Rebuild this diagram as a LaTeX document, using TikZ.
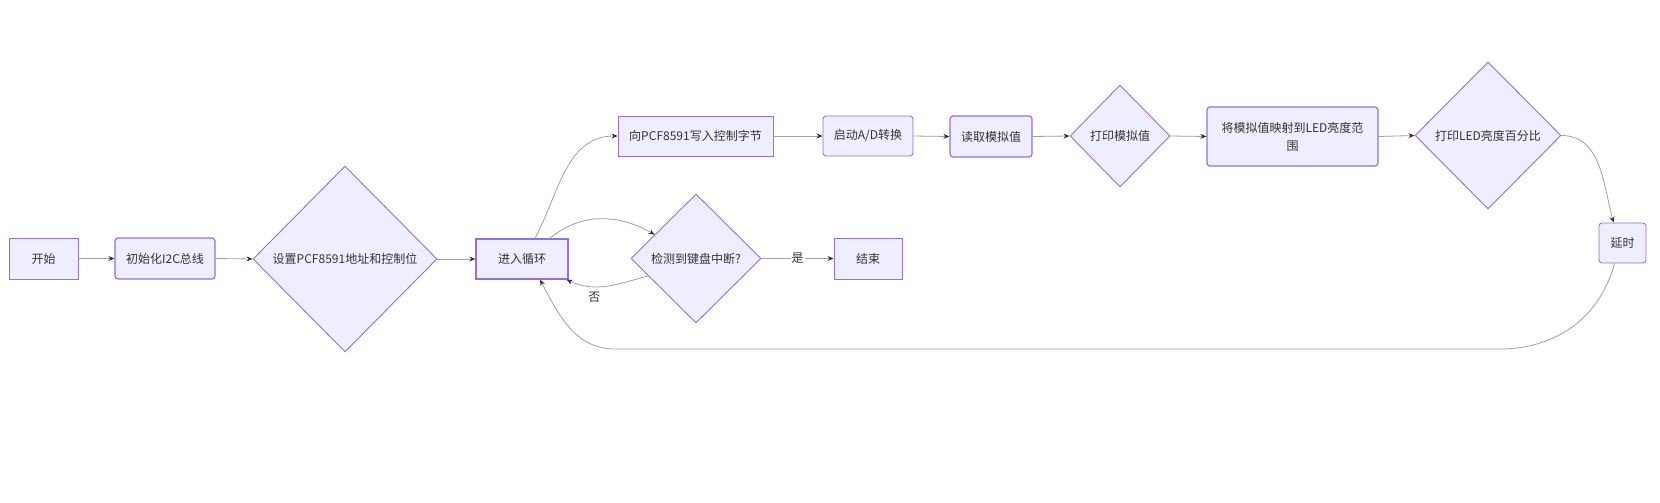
\documentclass[tikz,border=0pt]{standalone}
\usepackage{fontspec}
\setmainfont{Noto Sans CJK SC}
\usetikzlibrary{shapes.geometric,arrows.meta}
\definecolor{lav}{RGB}{238,238,255}
\definecolor{purp}{RGB}{147,112,219}
\definecolor{txt}{RGB}{51,51,51}
\definecolor{edge}{RGB}{160,160,160}
\tikzset{
  every node/.style={font=\fontsize{12}{18}\selectfont, text=txt},
  boxsq/.style={draw=purp, fill=lav, line width=0.9pt, inner sep=0pt},
  boxrd/.style={boxsq, rounded corners=3pt},
  dia/.style={draw=purp, fill=lav, line width=0.9pt, diamond, inner sep=0pt, aspect=1},
  conn/.style={draw=edge, line width=0.8pt, -{Stealth[length=6pt,width=5pt,color=txt]}},
  lbl/.style={fill=none, inner sep=1pt}
}
\begin{document}
\begin{tikzpicture}[x=1pt,y=-1pt]
\useasboundingbox (0,0) rectangle (1660,503);
\fill[white] (0,0) rectangle (1660,503);
% nodes
\node[boxsq, minimum width=69pt, minimum height=41pt] (start) at (43.5,258.5) {开始};
\node[boxrd, minimum width=100pt, minimum height=41pt, line width=1.2pt] (init) at (165,258.5) {初始化I2C总线};
\node[dia, minimum width=184pt, minimum height=186pt] (set) at (345,259) {设置PCF8591地址和控制位};
\node[boxsq, minimum width=92pt, minimum height=40pt, line width=1.3pt] (loop) at (522,259) {进入循环};
\node[boxsq, minimum width=155pt, minimum height=40pt] (write) at (695.5,136) {向PCF8591写入控制字节};
\node[boxrd, minimum width=90pt, minimum height=40pt] (adc) at (868,136) {启动A/D转换};
\node[boxrd, minimum width=82pt, minimum height=41pt, line width=1.2pt] (read) at (991,136.5) {读取模拟值};
\node[dia, minimum width=100pt, minimum height=102pt] (printv) at (1120,136) {打印模拟值};
\node[boxrd, minimum width=171pt, minimum height=59pt, align=center, line width=1.2pt] (map) at (1292.5,136.5) {将模拟值映射到LED亮度范\\围};
\node[dia, minimum width=146pt, minimum height=147pt] (printled) at (1488,135.5) {打印LED亮度百分比};
\node[boxrd, minimum width=47pt, minimum height=40pt] (delay) at (1622.5,243) {延时};
\node[dia, minimum width=130pt, minimum height=129pt] (check) at (696,258.5) {检测到键盘中断?};
\node[boxsq, minimum width=68pt, minimum height=41pt] (end) at (868,258.5) {结束};
\coordinate (bR) at (1500,349);
\coordinate (bL) at (615,349);
% connectors
\draw[conn] (start.east) -- (init.west);
\draw[conn] (init.east) -- (set.west);
\draw[conn] (set.east) -- (loop.west);
\draw[conn] ([xshift=13pt]loop.north) to[out=62,in=180] (write.west);
\draw[conn] ([xshift=28pt]loop.north) to[out=40,in=150] (check.150);
\draw[conn] (check.200) to[out=195,in=-25] node[lbl, pos=0.66, below=4pt] {否} ([xshift=-2pt]loop.south east);
\draw[conn] (check.east) -- node[lbl, fill=white] {是} (end.west);
\draw[conn] (write.east) -- (adc.west);
\draw[conn] (adc.east) -- (read.west);
\draw[conn] (read.east) -- (printv.west);
\draw[conn] (printv.east) -- (map.west);
\draw[conn] (map.east) -- (printled.west);
\draw[conn] (printled.east) to[out=0,in=105] ([xshift=-9pt]delay.north);
\draw[conn] ([xshift=-8pt]delay.south) to[out=-105,in=0] (bR) -- (bL) to[out=180,in=-62] ([xshift=18pt]loop.south);
\end{tikzpicture}
\end{document}
